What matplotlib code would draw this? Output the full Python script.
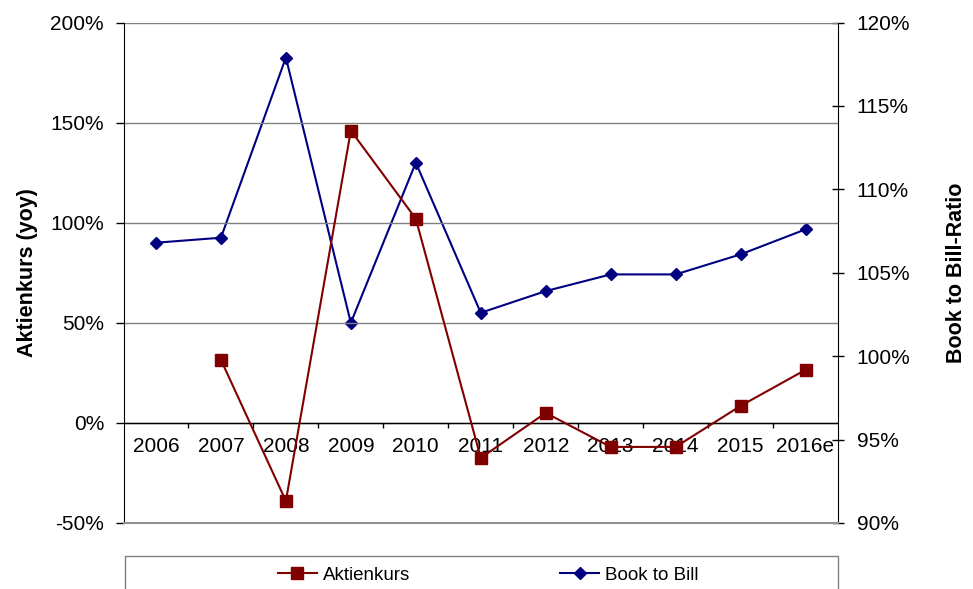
import matplotlib

matplotlib.use("Agg")
import matplotlib.pyplot as plt
from matplotlib.patches import Rectangle
from matplotlib.ticker import FuncFormatter

plt.rcParams["font.family"] = ["Liberation Sans", "DejaVu Sans"]

YEARS = ["2006", "2007", "2008", "2009", "2010", "2011", "2012", "2013", "2014", "2015", "2016e"]
AKTIENKURS = [None, 31.5, -39, 146, 102, -17.5, 5, -12, -12, 8.5, 26.5]
BOOK_TO_BILL = [106.8, 107.1, 117.9, 102.0, 111.6, 102.6, 103.9, 104.9, 104.9, 106.1, 107.6]

RED, BLUE = "#800000", "#000080"
pct = FuncFormatter(lambda v, _: f"{v:.0f}%")

fig = plt.figure(figsize=(9.73, 5.89), dpi=100, facecolor="white")
ax = fig.add_axes([123.5 / 973, 1 - 523 / 589, (838 - 123.5) / 973, (523 - 22.5) / 589])
ax2 = ax.twinx()

xs = list(range(len(YEARS)))
ak = [(x, v) for x, v in zip(xs, AKTIENKURS) if v is not None]

ax.set_xlim(-0.5, len(YEARS) - 0.5)
ax.set_ylim(-50, 200)
ax.set_yticks(range(-50, 201, 50))
ax.yaxis.set_major_formatter(pct)
ax.grid(True, axis="y", color="#808080", lw=1)
ax.set_axisbelow(True)
ax.set_xticks([])
ax.tick_params(axis="y", direction="out", length=6, width=1, labelsize=15, pad=8)

for s in ["top", "right"]:
    ax.spines[s].set_visible(False)
ax.spines["left"].set_color("black")
ax.spines["bottom"].set_color("#909090")
ax.spines["bottom"].set_linewidth(1.5)

# category axis crossing at 0%
ax.axhline(0, color="black", lw=1, zorder=2)
ax.vlines([x + 0.5 for x in xs[:-1]], -2.5, 0, color="black", lw=1, zorder=2)
for x, lab in zip(xs, YEARS):
    ax.text(x, -12, lab, ha="center", va="center", fontsize=15, zorder=1)

ax.plot([p[0] for p in ak], [p[1] for p in ak], color=RED, lw=1.5, marker="s",
        ms=8, zorder=4, label="Aktienkurs")

ax2.set_ylim(90, 120)
ax2.set_yticks(range(90, 121, 5))
ax2.yaxis.set_major_formatter(pct)
ax2.tick_params(axis="y", direction="inout", length=9, width=1, labelsize=15, pad=9)
for s in ["top", "left", "bottom"]:
    ax2.spines[s].set_visible(False)
ax2.spines["right"].set_color("black")
ax2.plot(xs, BOOK_TO_BILL, color=BLUE, lw=1.5, marker="D", ms=6, zorder=3, label="Book to Bill")

ax.set_zorder(ax2.get_zorder() + 1)
ax.patch.set_visible(False)

ax.set_ylabel("Aktienkurs (yoy)", fontsize=15.5, fontweight="bold")
ax.yaxis.set_label_coords((38 - 123.5) / (838 - 123.5), 0.5)
ax2.set_ylabel("Book to Bill-Ratio", fontsize=15.5, fontweight="bold")
ax2.yaxis.set_label_coords((946 - 123.5) / (838 - 123.5), 0.5)

# legend box, running off the bottom edge
fig.patches.append(Rectangle((125 / 973, -0.02), (838 - 125) / 973, (589 - 556) / 589 + 0.02,
                             transform=fig.transFigure, fill=False, edgecolor="#808080", lw=1))
h1, l1 = ax.get_legend_handles_labels()
h2, l2 = ax2.get_legend_handles_labels()
fig.legend(h1 + h2, l1 + l2, ncol=2, loc="center", bbox_to_anchor=(488 / 973, 1 - 575 / 589),
           frameon=False, fontsize=13.5, handlelength=2.1, handletextpad=0.3, columnspacing=8)

fig.savefig("out.png", dpi=100, facecolor="white")
